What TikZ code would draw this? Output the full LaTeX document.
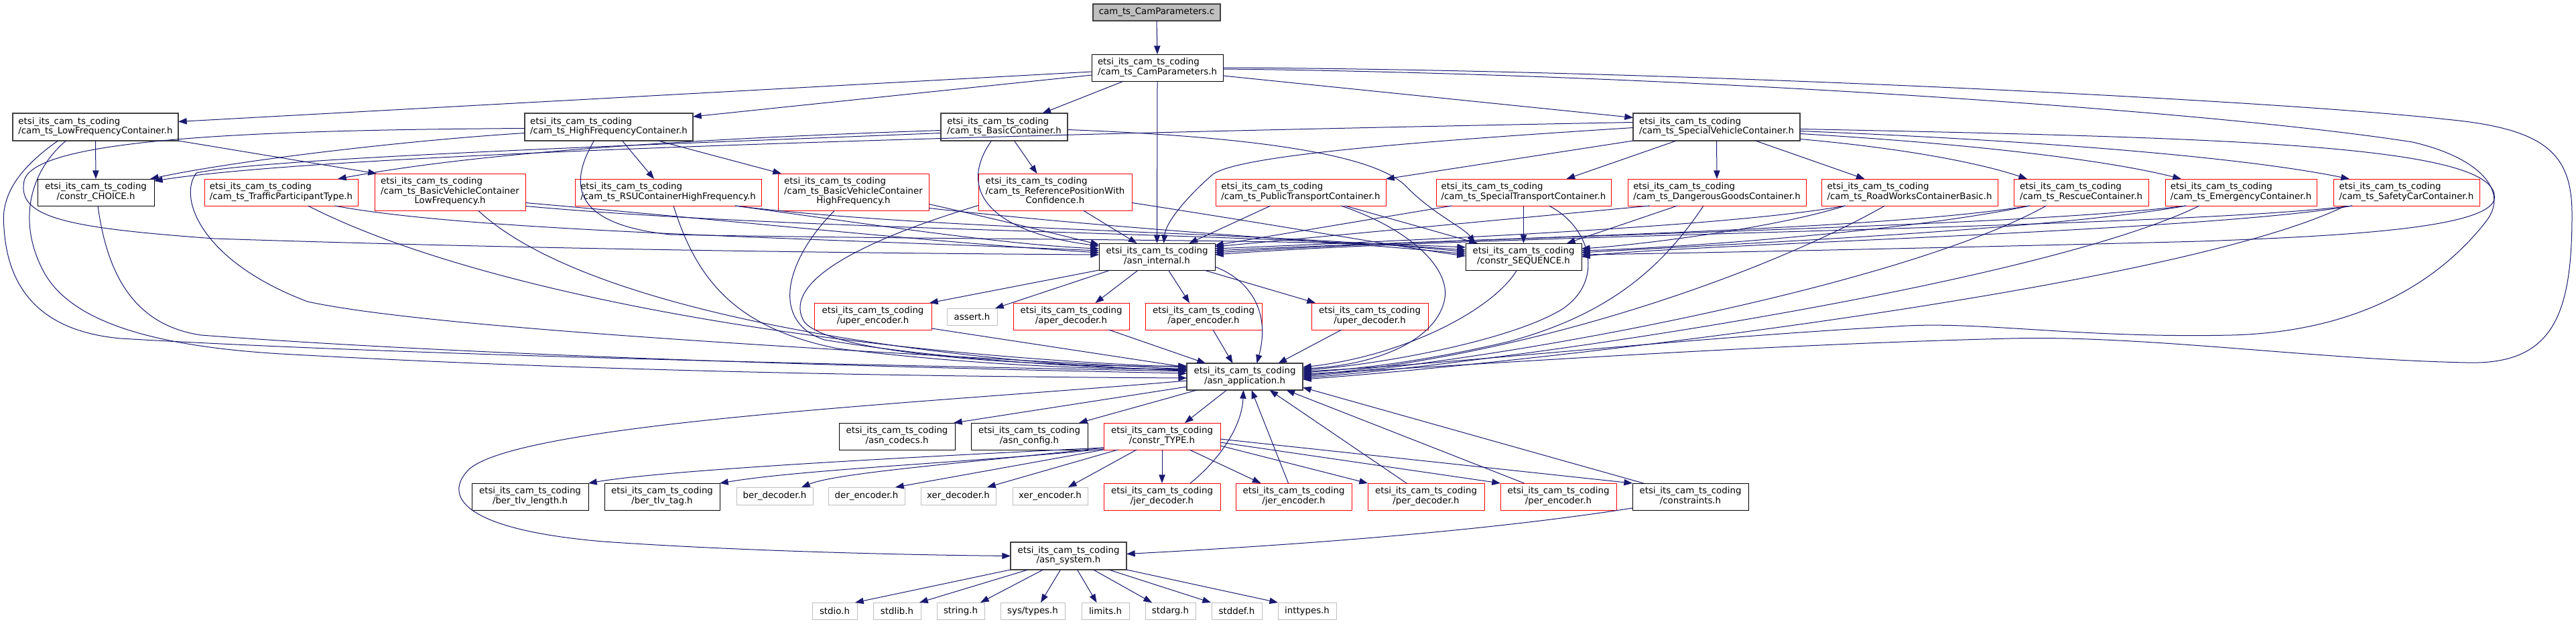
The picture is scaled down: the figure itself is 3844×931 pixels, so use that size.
\documentclass[tikz,border=0pt]{standalone}
\usepackage{fontspec}
\setmainfont{DejaVu Sans}
\usetikzlibrary{arrows.meta,calc}
\definecolor{edgec}{HTML}{191970}
\definecolor{gbord}{HTML}{BFBFBF}
\definecolor{dbord}{HTML}{404040}
\definecolor{rbord}{HTML}{FF0000}
\newcommand\TwoL[2]{\begin{tabular}{@{}l@{}}#1\\\multicolumn{1}{@{}c@{}}{#2}\end{tabular}}
\newcommand\ThreeL[3]{\begin{tabular}{@{}l@{}}#1\\#2\\\multicolumn{1}{@{}c@{}}{#3}\end{tabular}}
\newcommand\ET{etsi\_its\_cam\_ts\_coding}
\tikzset{
  sz/.style 2 args={minimum width=#1*0.75pt, minimum height=#2*0.75pt},
  nbase/.style={rectangle, fill=white, inner sep=0pt, outer sep=0pt, font=\fontsize{10pt}{10.75pt}\selectfont},
  nthin/.style={nbase, draw=black, line width=0.7pt},
  nthick/.style={nbase, draw=dbord, line width=1.2pt},
  nred/.style={nbase, draw=rbord, line width=0.75pt},
  ngray/.style={nbase, draw=gbord, line width=0.75pt},
  nroot/.style={nbase, fill=gbord, draw=dbord, line width=1pt},
  edg/.style={draw=edgec, line width=0.75pt, -{Triangle[length=9.5pt,width=7pt]}},
}
\begin{document}
\begin{tikzpicture}[x=0.75pt,y=-0.75pt]
\fill[white] (0,0) rectangle (3844,931);
\useasboundingbox (0,0) rectangle (3844,931);
% ---------------- nodes
\node[nroot, sz={190}{25}] (camc) at (1726,18.5) {cam\_ts\_CamParameters.c};
\node[nthin, sz={196}{40}] (camh) at (1727,101) {\TwoL{\ET}{/cam\_ts\_CamParameters.h}};
\node[nthick, sz={247}{41}] (lowf) at (142.5,189.5) {\TwoL{\ET}{/cam\_ts\_LowFrequencyContainer.h}};
\node[nthick, sz={251}{41}] (highf) at (908.5,189.5) {\TwoL{\ET}{/cam\_ts\_HighFrequencyContainer.h}};
\node[nthick, sz={189}{41}] (basic) at (1498.5,189.5) {\TwoL{\ET}{/cam\_ts\_BasicContainer.h}};
\node[nthick, sz={249}{41}] (specv) at (2561.5,189.5) {\TwoL{\ET}{/cam\_ts\_SpecialVehicleContainer.h}};
\node[nthin, sz={174}{40}] (choice) at (143,287) {\TwoL{\ET}{/constr\_CHOICE.h}};
\node[nred, sz={229}{40}] (traffic) at (419.5,287) {\TwoL{\ET}{/cam\_ts\_TrafficParticipantType.h}};
\node[nred, sz={225}{55}] (bvclf) at (671.5,286.5) {\ThreeL{\ET}{/cam\_ts\_BasicVehicleContainer}{LowFrequency.h}};
\node[nred, sz={278}{40}] (rsu) at (997,287) {\TwoL{\ET}{/cam\_ts\_RSUContainerHighFrequency.h}};
\node[nred, sz={225}{55}] (bvchf) at (1273.5,286.5) {\ThreeL{\ET}{/cam\_ts\_BasicVehicleContainer}{HighFrequency.h}};
\node[nred, sz={229}{55}] (refpos) at (1574.5,286.5) {\ThreeL{\ET}{/cam\_ts\_ReferencePositionWith}{Confidence.h}};
\node[nred, sz={254}{40}] (pubt) at (1941,287) {\TwoL{\ET}{/cam\_ts\_PublicTransportContainer.h}};
\node[nred, sz={261}{40}] (spect) at (2273.5,287) {\TwoL{\ET}{/cam\_ts\_SpecialTransportContainer.h}};
\node[nred, sz={266}{40}] (dang) at (2562,287) {\TwoL{\ET}{/cam\_ts\_DangerousGoodsContainer.h}};
\node[nred, sz={263}{40}] (road) at (2849.5,287) {\TwoL{\ET}{/cam\_ts\_RoadWorksContainerBasic.h}};
\node[nred, sz={201}{40}] (rescue) at (3105.5,287) {\TwoL{\ET}{/cam\_ts\_RescueContainer.h}};
\node[nred, sz={226}{40}] (emerg) at (3344,287) {\TwoL{\ET}{/cam\_ts\_EmergencyContainer.h}};
\node[nred, sz={218}{40}] (safety) at (3591,287) {\TwoL{\ET}{/cam\_ts\_SafetyCarContainer.h}};
\node[nthin, sz={173}{40}] (internal) at (1726.5,383) {\TwoL{\ET}{/asn\_internal.h}};
\node[nthin, sz={173}{40}] (seq) at (2273.5,383) {\TwoL{\ET}{/constr\_SEQUENCE.h}};
\node[nred, sz={175}{40}] (uperenc) at (1302.5,472) {\TwoL{\ET}{/uper\_encoder.h}};
\node[ngray, sz={75}{25}] (assert) at (1450.5,472.5) {assert.h};
\node[nred, sz={173}{40}] (aperdec) at (1598.5,472) {\TwoL{\ET}{/aper\_decoder.h}};
\node[nred, sz={174}{40}] (aperenc) at (1796,472) {\TwoL{\ET}{/aper\_encoder.h}};
\node[nred, sz={174}{40}] (uperdec) at (2044,472) {\TwoL{\ET}{/uper\_decoder.h}};
\node[nthick, sz={173}{40}] (app) at (1857.5,562) {\TwoL{\ET}{/asn\_application.h}};
\node[nthin, sz={173}{40}] (codecs) at (1338.5,651) {\TwoL{\ET}{/asn\_codecs.h}};
\node[nthin, sz={174}{40}] (config) at (1536,651) {\TwoL{\ET}{/asn\_config.h}};
\node[nred, sz={174}{40}] (ctype) at (1734,651) {\TwoL{\ET}{/constr\_TYPE.h}};
\node[nthin, sz={174}{40}] (tlvlen) at (791,741) {\TwoL{\ET}{/ber\_tlv\_length.h}};
\node[nthin, sz={172}{40}] (tlvtag) at (988,741) {\TwoL{\ET}{/ber\_tlv\_tag.h}};
\node[ngray, sz={114}{26}] (berdec) at (1156,740) {ber\_decoder.h};
\node[ngray, sz={114}{26}] (derenc) at (1293,740) {der\_encoder.h};
\node[ngray, sz={112}{26}] (xerdec) at (1430,740) {xer\_decoder.h};
\node[ngray, sz={112}{26}] (xerenc) at (1567,740) {xer\_encoder.h};
\node[nred, sz={174}{40}] (jerdec) at (1734,741) {\TwoL{\ET}{/jer\_decoder.h}};
\node[nred, sz={173}{40}] (jerenc) at (1930.5,741) {\TwoL{\ET}{/jer\_encoder.h}};
\node[nred, sz={174}{40}] (perdec) at (2128,741) {\TwoL{\ET}{/per\_decoder.h}};
\node[nred, sz={173}{40}] (perenc) at (2325.5,741) {\TwoL{\ET}{/per\_encoder.h}};
\node[nthin, sz={173}{40}] (constr) at (2522.5,741) {\TwoL{\ET}{/constraints.h}};
\node[nthick, sz={173}{41}] (system) at (1594.5,829.5) {\TwoL{\ET}{/asn\_system.h}};
\node[ngray, sz={67}{25}] (stdio) at (1245.5,911.5) {stdio.h};
\node[ngray, sz={71}{25}] (stdlib) at (1338.5,911.5) {stdlib.h};
\node[ngray, sz={71}{25}] (string) at (1433.5,911.5) {string.h};
\node[ngray, sz={96}{25}] (systypes) at (1541,911.5) {sys/types.h};
\node[ngray, sz={71}{25}] (limits) at (1649.5,911.5) {limits.h};
\node[ngray, sz={75}{25}] (stdarg) at (1746.5,911.5) {stdarg.h};
\node[ngray, sz={75}{25}] (stddef) at (1845.5,911.5) {stddef.h};
\node[ngray, sz={87}{25}] (inttypes) at (1950.5,911.5) {inttypes.h};
% ---------------- edges: top
\draw[edg] (camc.south) -- (camh.north);
\draw[edg] ($(camh.west)+(0,6)$) -- ($(lowf.east)+(0,-8)$);
\draw[edg] ($(camh.west)+(0,11)$) -- ($(highf.north east)+(0,5)$);
\draw[edg] ($(camh.south)+(-50,0)$) -- ($(basic.north)+(57,0)$);
\draw[edg] (camh.south) -- (internal.north);
\draw[edg] ($(camh.east)+(0,12)$) -- ($(specv.west)+(0,-14)$);
\draw[edg] ($(camh.east)+(0,0)$) .. controls (2500,104) and (3400,150) .. (3650,178) .. controls (3800,192) and (3838,230) .. (3838,320) .. controls (3838,470) and (3810,545) .. (3680,541) .. controls (3450,536) and (3200,500) .. (3000,505) .. controls (2600,515) and (2200,545) .. ($(app.east)+(0,-4)$);
\draw[edg] ($(camh.east)+(0,2)$) .. controls (2500,110) and (3300,165) .. (3600,212) .. controls (3700,235) and (3745,285) .. (3710,330) .. controls (3640,420) and (3520,495) .. (3330,500) .. controls (3100,505) and (2950,478) .. (2830,487) .. controls (2500,505) and (2150,545) .. ($(app.east)+(0,-8)$);
% LowFrequency
\draw[edg] (lowf.south) -- (choice.north);
\draw[edg] (lowf.south east) -- ($(bvclf.north west)+(3,0)$);
\draw[edg] ($(lowf.south)+(-56,0)$) .. controls (30,250) and (0,290) .. (6,340) .. controls (12,440) and (70,495) .. (180,505) .. controls (600,530) and (1300,545) .. ($(app.west)+(0,-8)$);
\draw[edg] ($(lowf.south)+(-44,0)$) .. controls (45,255) and (25,330) .. (65,405) .. controls (100,470) and (200,515) .. (420,528) .. controls (900,555) and (1400,562) .. ($(app.west)+(0,2)$);
\draw[edg] ($(choice.south)+(3,0)$) .. controls (160,410) and (200,485) .. (300,500) .. controls (700,530) and (1300,548) .. ($(app.west)+(0,-5)$);
% HighFrequency
\draw[edg] ($(highf.west)+(0,9)$) .. controls (600,210) and (350,240) .. ($(choice.north east)+(-6,0)$);
\draw[edg] ($(highf.west)+(0,2)$) .. controls (400,194) and (50,205) .. (36,270) .. controls (25,325) and (100,340) .. (320,356) .. controls (800,372) and (1300,378) .. ($(internal.west)+(0,-3)$);
\draw[edg] ($(highf.south)+(20,0)$) -- ($(rsu.north)+(-21,0)$);
\draw[edg] ($(highf.south east)+(-52,0)$) -- ($(bvchf.north west)+(5,0)$);
\draw[edg] ($(highf.south)+(-22,0)$) .. controls (845,280) and (860,335) .. (1000,350) .. controls (1400,358) and (1900,356) .. ($(seq.west)+(0,-14)$);
% Basic
\draw[edg] ($(basic.west)+(0,5)$) .. controls (1000,208) and (700,230) .. ($(traffic.north east)+(-30,0)$);
\draw[edg] ($(basic.west)+(0,9)$) .. controls (1000,215) and (400,235) .. (293,258) .. controls (265,295) and (300,390) .. (459,450) .. controls (620,485) and (1100,515) .. ($(app.west)+(0,-11)$);
\draw[edg] ($(basic.south)+(15,0)$) -- ($(refpos.north)+(-27,0)$);
\draw[edg] ($(basic.south)+(-19,0)$) .. controls (1430,280) and (1470,345) .. ($(internal.west)+(0,-16)$);
\draw[edg] ($(basic.east)+(0,4)$) .. controls (1900,205) and (2060,235) .. (2100,280) .. controls (2140,320) and (2185,340) .. ($(seq.north west)+(14,0)$);
% SpecialVehicle
\draw[edg] ($(specv.west)+(0,-7)$) .. controls (1500,200) and (500,228) .. ($(choice.east)+(0,-17)$);
\draw[edg] ($(specv.west)+(0,1)$) .. controls (2100,212) and (1850,232) .. (1810,260) .. controls (1775,290) and (1740,330) .. ($(internal.north)+(10,0)$);
\draw[edg] (specv.south west) -- (pubt.north east);
\draw[edg] ($(specv.south)+(-60,0)$) -- ($(spect.north)+(64,0)$);
\draw[edg] (specv.south) -- (dang.north);
\draw[edg] ($(specv.south)+(58,0)$) -- ($(road.north)+(-67,0)$);
\draw[edg] ($(specv.east)+(0,18)$) .. controls (2850,222) and (2960,245) .. ($(rescue.north west)+(20,0)$);
\draw[edg] ($(specv.east)+(0,10)$) .. controls (2950,215) and (3150,240) .. ($(emerg.north west)+(24,0)$);
\draw[edg] ($(specv.east)+(0,6)$) .. controls (3050,210) and (3350,235) .. ($(safety.north west)+(24,0)$);
\draw[edg] ($(specv.east)+(0,3)$) .. controls (3300,205) and (3710,215) .. (3722,290) .. controls (3735,340) and (3500,352) .. (3284,360) .. controls (2900,370) and (2500,378) .. ($(seq.east)+(0,-3)$);
% TrafficParticipantType
\draw[edg] ($(traffic.south)+(40,0)$) .. controls (700,430) and (1200,525) .. ($(app.west)+(0,-14)$);
\draw[edg] ($(traffic.south)+(80,0)$) .. controls (700,345) and (1200,355) .. ($(internal.west)+(0,-9)$);
% BasicVehicleContainerLowFrequency
\draw[edg] ($(bvclf.south)+(42,0)$) .. controls (880,470) and (1400,540) .. ($(app.west)+(0,-9)$);
\draw[edg] ($(bvclf.east)+(0,16)$) .. controls (1100,330) and (1400,362) .. ($(internal.west)+(0,-6)$);
\draw[edg] ($(bvclf.east)+(0,21)$) .. controls (1200,345) and (1800,345) .. ($(seq.west)+(0,-10)$);
% RSU
\draw[edg] ($(rsu.south)+(8,0)$) .. controls (1040,420) and (1100,490) .. (1250,520) .. controls (1450,545) and (1650,552) .. ($(app.west)+(0,-12)$);
\draw[edg] ($(rsu.south)+(100,0)$) .. controls (1300,335) and (1500,365) .. ($(internal.west)+(0,-12)$);
\draw[edg] ($(rsu.south)+(100,0)$) .. controls (1400,345) and (1900,345) .. ($(seq.west)+(0,-7)$);
% BasicVehicleContainerHighFrequency
\draw[edg] ($(bvchf.south)+(-28,0)$) .. controls (1170,390) and (1150,480) .. (1230,507) .. controls (1400,535) and (1600,548) .. ($(app.west)+(0,-10)$);
\draw[edg] ($(bvchf.east)+(0,18)$) .. controls (1500,330) and (1600,355) .. ($(internal.west)+(0,-18)$);
\draw[edg] ($(bvchf.east)+(0,24)$) .. controls (1700,345) and (2000,360) .. ($(seq.west)+(0,-4)$);
% ReferencePositionWithConfidence
\draw[edg] ($(refpos.south)+(42,0)$) -- ($(internal.north)+(-30,0)$);
\draw[edg] ($(refpos.west)+(0,20)$) .. controls (1250,370) and (1170,430) .. (1200,480) .. controls (1240,530) and (1550,548) .. ($(app.west)+(0,-16)$);
\draw[edg] ($(refpos.east)+(0,16)$) .. controls (1900,335) and (2100,370) .. ($(seq.west)+(0,-1)$);
% PublicTransport
\draw[edg] ($(pubt.south)+(-45,0)$) -- ($(internal.north)+(48,0)$);
\draw[edg] ($(pubt.south)+(66,0)$) -- ($(seq.north west)+(18,0)$);
\draw[edg] ($(pubt.south)+(60,0)$) .. controls (2100,340) and (2168,400) .. (2155,450) .. controls (2140,510) and (2050,545) .. ($(app.east)+(0,-12)$);
% SpecialTransport
\draw[edg] ($(spect.south)+(-107,0)$) -- ($(internal.east)+(0,-17)$);
\draw[edg] (spect.south) -- (seq.north);
\draw[edg] ($(spect.south)+(38,0)$) .. controls (2375,340) and (2395,420) .. (2330,462) .. controls (2250,510) and (2050,545) .. ($(app.east)+(0,-10)$);
% DangerousGoods
\draw[edg] ($(dang.south)+(-100,0)$) -- ($(internal.east)+(0,-15)$);
\draw[edg] ($(dang.south)+(-59,0)$) -- ($(seq.north east)+(-22,0)$);
\draw[edg] ($(dang.south)+(-20,0)$) .. controls (2480,400) and (2400,470) .. (2250,510) .. controls (2100,545) and (2000,552) .. ($(app.east)+(0,-6)$);
% RoadWorks
\draw[edg] ($(road.south)+(-96,0)$) .. controls (2600,335) and (2200,355) .. ($(internal.east)+(0,-12)$);
\draw[edg] ($(road.south)+(-96,0)$) .. controls (2650,340) and (2450,365) .. ($(seq.east)+(0,-12)$);
\draw[edg] ($(road.south)+(-37,0)$) .. controls (2650,400) and (2300,530) .. ($(app.east)+(0,-2)$);
% Rescue
\draw[edg] ($(rescue.south)+(-77,0)$) .. controls (2800,345) and (2200,355) .. ($(internal.east)+(0,-9)$);
\draw[edg] ($(rescue.south)+(-77,0)$) .. controls (2850,345) and (2500,370) .. ($(seq.east)+(0,-9)$);
\draw[edg] ($(rescue.south)+(-52,0)$) .. controls (2850,420) and (2300,530) .. (app.east);
% Emergency
\draw[edg] ($(emerg.south)+(-82,0)$) .. controls (3000,340) and (2200,352) .. ($(internal.east)+(0,-6)$);
\draw[edg] ($(emerg.south)+(-82,0)$) .. controls (3050,345) and (2500,368) .. ($(seq.east)+(0,-6)$);
\draw[edg] ($(emerg.south)+(-62,0)$) .. controls (3050,420) and (2300,535) .. ($(app.east)+(0,2)$);
% SafetyCar
\draw[edg] ($(safety.south)+(-81,0)$) .. controls (3250,340) and (2200,350) .. ($(internal.east)+(0,-3)$);
\draw[edg] ($(safety.south)+(-81,0)$) .. controls (3300,345) and (2500,365) .. (seq.east);
\draw[edg] ($(safety.south)+(-91,0)$) .. controls (3250,430) and (2300,540) .. ($(app.east)+(0,4)$);
% asn_internal
\draw[edg] (internal.south west) -- ($(uperenc.north east)+(-3,0)$);
\draw[edg] ($(internal.south west)+(17,0)$) -- ($(assert.north east)+(-3,0)$);
\draw[edg] ($(internal.south)+(-28,0)$) -- ($(aperdec.north)+(36,0)$);
\draw[edg] ($(internal.south)+(17,0)$) -- ($(aperenc.north)+(-21,0)$);
\draw[edg] ($(internal.south)+(70,0)$) -- ($(uperdec.north west)+(6,0)$);
\draw[edg] ($(internal.east)+(0,15)$) .. controls (1870,420) and (1895,470) .. ($(app.north)+(18,0)$);
\draw[edg] ($(seq.south)+(-10,0)$) .. controls (2230,460) and (2100,530) .. ($(app.east)+(0,-14)$);
% codec headers -> asn_application
\draw[edg] ($(uperenc.east)+(0,18)$) -- ($(app.west)+(0,-14)$);
\draw[edg] ($(aperdec.south)+(56,0)$) -- ($(app.north west)+(28,0)$);
\draw[edg] ($(aperenc.south)+(14,0)$) -- ($(app.north)+(-18,0)$);
\draw[edg] ($(uperdec.south)+(-42,0)$) -- ($(app.north)+(50,0)$);
% asn_application
\draw[edg] ($(app.west)+(0,6)$) .. controls (1400,600) and (780,630) .. (700,700) .. controls (660,740) and (690,790) .. (900,808) .. controls (1100,822) and (1350,828) .. (system.west);
\draw[edg] ($(app.south west)+(0,-5)$) -- ($(codecs.north east)+(-2,0)$);
\draw[edg] ($(app.south west)+(15,0)$) -- ($(config.north east)+(-13,0)$);
\draw[edg] ($(app.south)+(-27,0)$) -- ($(ctype.north)+(34,0)$);
% back edges to asn_application
\draw[edg] ($(jerdec.north)+(42,0)$) .. controls (1815,690) and (1853,640) .. ($(app.south)+(-2,0)$);
\draw[edg] ($(jerenc.north)+(-8,0)$) -- ($(app.south)+(10,0)$);
\draw[edg] ($(perdec.north)+(-29,0)$) -- ($(app.south)+(37,0)$);
\draw[edg] ($(perenc.north)+(-51,0)$) -- ($(app.south)+(62,0)$);
\draw[edg] ($(constr.north)+(-70,0)$) -- ($(app.south east)+(0,-4)$);
% constr_TYPE
\draw[edg] ($(ctype.west)+(0,17)$) .. controls (1400,680) and (1000,700) .. (tlvlen.north east);
\draw[edg] ($(ctype.west)+(0,19)$) .. controls (1450,690) and (1200,700) .. (tlvtag.north east);
\draw[edg] ($(ctype.south west)+(0,-3)$) .. controls (1450,690) and (1250,705) .. ($(berdec.north)+(40,0)$);
\draw[edg] (ctype.south west) -- ($(derenc.north)+(43,0)$);
\draw[edg] ($(ctype.south west)+(21,0)$) -- ($(xerdec.north)+(43,0)$);
\draw[edg] ($(ctype.south)+(-38,0)$) -- ($(xerenc.north)+(27,0)$);
\draw[edg] (ctype.south) -- (jerdec.north);
\draw[edg] ($(ctype.south)+(41,0)$) -- ($(jerenc.north)+(-49,0)$);
\draw[edg] ($(ctype.east)+(0,14)$) -- (perdec.north west);
\draw[edg] ($(ctype.east)+(0,9)$) -- (perenc.north west);
\draw[edg] ($(ctype.east)+(0,4)$) -- (constr.north west);
\draw[edg] ($(constr.south west)+(0,-3)$) .. controls (2200,795) and (1900,815) .. ($(system.east)+(0,-3)$);
% asn_system
\draw[edg] (system.south west) -- ($(stdio.north east)+(-3,0)$);
\draw[edg] ($(system.south west)+(26,0)$) -- ($(stdlib.north east)+(-2,0)$);
\draw[edg] ($(system.south)+(-38,0)$) -- ($(string.north east)+(-6,0)$);
\draw[edg] ($(system.south)+(-12,0)$) -- ($(systypes.north)+(12,0)$);
\draw[edg] ($(system.south)+(13,0)$) -- ($(limits.north)+(-13,0)$);
\draw[edg] ($(system.south)+(37,0)$) -- ($(stdarg.north west)+(10,0)$);
\draw[edg] ($(system.south)+(60,0)$) -- ($(stddef.north west)+(-1,0)$);
\draw[edg] (system.south east) -- (inttypes.north west);
\end{tikzpicture}
\end{document}
